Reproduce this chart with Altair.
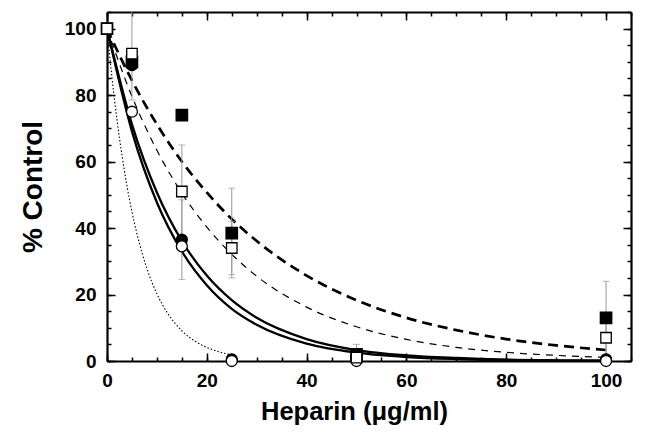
import altair as alt
import pandas as pd

# ---- data ----
doses = [0, 5, 15, 25, 50, 100]

filled_sq = [100, 90, 74, 38.5, 2, 13]
filled_sq_err = [0, 0, 0, 13.5, 3, 11]

open_sq = [100, 92.5, 51, 34, 1, 7]
open_sq_err = [0, 14, 14, 8, 0, 5]

filled_ci = [100, 89, 36.5, 0.5, 1, 0.5]
filled_ci_err = [0, 0, 12, 0, 0, 0]

open_ci = [100, 75, 34.5, 0, 0, 0]
open_ci_err = [0, 0, 0, 0, 0, 0]

# fitted curves
curve_x = [0, 5, 10, 15, 20, 25, 30, 40, 50, 60, 70, 80, 90, 100]
thick_dash_y = [100, 84.4, 71.2, 60.0, 50.7, 42.7, 36.1, 25.7, 18.3, 13.0, 9.3, 6.6, 4.7, 3.3]
thin_dash_y = [100, 79.6, 63.4, 50.5, 40.3, 32.1, 25.5, 16.2, 10.3, 6.5, 4.1, 2.6, 1.7, 1.1]
solid1_y = [100, 71.2, 50.7, 36.1, 25.7, 18.3, 13.0, 6.6, 3.3, 1.7, 0.9, 0.4, 0.2, 0.1]
solid2_y = [100, 69.1, 47.7, 33.0, 22.8, 15.7, 10.9, 5.2, 2.5, 1.2, 0.6, 0.3, 0.1, 0.1]
dotted_x = [0, 1, 2, 3, 4, 5, 6, 8, 10, 12, 15, 18, 21, 25]
dotted_y = [100, 85.2, 72.6, 61.9, 52.7, 44.9, 38.3, 27.8, 20.2, 14.7, 9.1, 5.6, 3.5, 1.8]

major_ticks = [0, 20, 40, 60, 80, 100]
minor_ticks = list(range(0, 106, 5))

W, H = 524, 349
FONT = "Liberation Sans"

xscale = alt.Scale(domain=[0, 105], nice=False, zero=False)
yscale = alt.Scale(domain=[0, 105], nice=False, zero=False)


def tick_axis(orient, offset, values, size, domain=False):
    return alt.Axis(orient=orient, offset=offset, values=values, tickSize=size,
                    tickWidth=1.5, tickColor="black", labels=False, domain=domain,
                    domainColor="black", domainWidth=2.2,
                    grid=False, title=None)


label_x = alt.Axis(orient="bottom", values=major_ticks, tickSize=0, domain=False, grid=False,
                   labelFlush=False,
                   labelFont=FONT, labelFontWeight="bold", labelFontSize=19, labelColor="black",
                   labelPadding=10, title="Heparin (μg/ml)", titleFont=FONT, titleFontWeight="bold",
                   titleFontSize=25.5, titleColor="black", titlePadding=9, titleX=247)
label_y = alt.Axis(orient="left", values=major_ticks, tickSize=0, domain=False, grid=False,
                   labelFlush=False,
                   labelFont=FONT, labelFontWeight="bold", labelFontSize=19, labelColor="black",
                   labelPadding=11, title="% Control", titleFont=FONT, titleFontWeight="bold",
                   titleFontSize=28, titleColor="black", titlePadding=17)


def curve(xs, ys, width, dash, xaxis=None, yaxis=None):
    df = pd.DataFrame({"x": xs, "y": ys})
    kw = dict(color="black", strokeWidth=width, interpolate="monotone", clip=True)
    if dash:
        kw["strokeDash"] = dash
    return alt.Chart(df).mark_line(**kw).encode(
        x=alt.X("x:Q", scale=xscale, axis=xaxis),
        y=alt.Y("y:Q", scale=yscale, axis=yaxis),
    )


c1 = curve(curve_x, thick_dash_y, 2.7, [10, 6], label_x, label_y)
c2 = curve(curve_x, thin_dash_y, 1.2, [7, 6],
           tick_axis("top", -H, major_ticks, 8, True), tick_axis("right", -W, major_ticks, 8, True))
c3 = curve(curve_x, solid1_y, 2.3, None,
           tick_axis("bottom", -H, major_ticks, 8, True), tick_axis("left", -W, major_ticks, 8, True))
c4 = curve(curve_x, solid2_y, 2.3, None,
           tick_axis("top", -H, minor_ticks, 4), tick_axis("right", -W, minor_ticks, 4))
c5 = curve(dotted_x, dotted_y, 1.1, [1.5, 2],
           tick_axis("bottom", -H, minor_ticks, 4), tick_axis("left", -W, minor_ticks, 4))

rows = []
for name, ys, es in [("fsq", filled_sq, filled_sq_err), ("osq", open_sq, open_sq_err),
                     ("fci", filled_ci, filled_ci_err), ("oci", open_ci, open_ci_err)]:
    for x, y, e in zip(doses, ys, es):
        rows.append({"series": name, "x": x, "y": y, "lo": max(y - e, 0), "hi": min(y + e, 105), "e": e})
pts = pd.DataFrame(rows)
err = pts[pts["e"] > 0]

bars = alt.Chart(err).mark_rule(color="#999999", strokeWidth=1).encode(
    x=alt.X("x:Q", scale=xscale, axis=None),
    y=alt.Y("lo:Q", scale=yscale, axis=None),
    y2="hi:Q",
)
caps_lo = alt.Chart(err).mark_tick(color="#999999", thickness=1, size=7, orient="horizontal").encode(
    x=alt.X("x:Q", scale=xscale, axis=None),
    y=alt.Y("lo:Q", scale=yscale, axis=None),
)
caps_hi = alt.Chart(err[err["hi"] < 105]).mark_tick(color="#999999", thickness=1, size=7, orient="horizontal").encode(
    x=alt.X("x:Q", scale=xscale, axis=None),
    y=alt.Y("hi:Q", scale=yscale, axis=None),
)


def points(series, shape, fill, size):
    return alt.Chart(pts[pts["series"] == series]).mark_point(
        shape=shape, filled=True, fill=fill, stroke="black", strokeWidth=1.3, size=size, opacity=1
    ).encode(
        x=alt.X("x:Q", scale=xscale, axis=None),
        y=alt.Y("y:Q", scale=yscale, axis=None),
    )


p_fsq = points("fsq", "square", "black", 130)
p_fci = points("fci", "circle", "black", 120)
p_oci = points("oci", "circle", "white", 120)
p_osq = points("osq", "square", "white", 110)

chart = alt.layer(
    c1, c2, c3, c4, c5, bars, caps_lo, caps_hi, p_fsq, p_fci, p_oci, p_osq
).resolve_axis(x="independent", y="independent").properties(
    width=W, height=H,
    autosize=alt.AutoSizeParams(type="none"),
    padding={"left": 99, "top": 4, "right": 8, "bottom": 79},
).configure_view(stroke=None).configure(background="white")

chart.save("out.html", embed_options={"renderer": "svg", "actions": False})
